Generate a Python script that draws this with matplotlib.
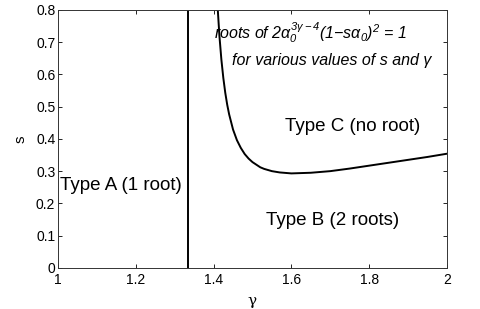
import matplotlib
matplotlib.use("Agg")
import matplotlib.pyplot as plt

plt.rcParams['font.family'] = ['Liberation Sans', 'DejaVu Sans']
plt.rcParams['mathtext.fontset'] = 'custom'
plt.rcParams['mathtext.rm'] = 'Liberation Sans:italic'
plt.rcParams['mathtext.it'] = 'Liberation Sans:italic'

# Type A / Type B boundary (vertical line at gamma = 4/3)
boundary_A_gamma = [4/3, 4/3]
boundary_A_s = [0.0, 0.8]

# Type B / Type C boundary curve
curve_gamma = [1.405, 1.41, 1.415, 1.42, 1.425, 1.43, 1.435, 1.44, 1.45, 1.46, 1.47, 1.48,
               1.49, 1.50, 1.52, 1.53, 1.55, 1.57, 1.60, 1.65, 1.70, 1.75, 1.80, 1.85,
               1.90, 1.95, 2.00]
curve_s = [0.944, 0.815, 0.719, 0.646, 0.589, 0.543, 0.506, 0.476, 0.429, 0.396, 0.372, 0.353,
           0.339, 0.328, 0.312, 0.307, 0.300, 0.296, 0.293, 0.295, 0.300, 0.308, 0.317, 0.326,
           0.335, 0.344, 0.354]

xticks = [1, 1.2, 1.4, 1.6, 1.8, 2]
xticklabels = ['1', '1.2', '1.4', '1.6', '1.8', '2']
yticks = [0, 0.1, 0.2, 0.3, 0.4, 0.5, 0.6, 0.7, 0.8]
yticklabels = ['0', '0.1', '0.2', '0.3', '0.4', '0.5', '0.6', '0.7', '0.8']

fig = plt.figure(figsize=(4.8, 3.09), dpi=100)
ax = fig.add_axes([0.121, 0.133, 0.810, 0.835])
ax.plot(boundary_A_gamma, boundary_A_s, color='black', lw=1.4)
ax.plot(curve_gamma, curve_s, color='black', lw=1.4)
ax.set_xlim(1, 2)
ax.set_ylim(0, 0.8)
ax.set_xticks(xticks)
ax.set_xticklabels(xticklabels)
ax.set_yticks(yticks)
ax.set_yticklabels(yticklabels)
ax.tick_params(direction='in', top=True, right=True, labelsize=10, length=3, width=0.6)
ax.tick_params(axis='x', pad=4)
ax.tick_params(axis='y', pad=2)
for sp in ax.spines.values():
    sp.set_linewidth(0.7)
    sp.set_color('#333333')
ax.set_xlabel('γ', fontsize=11, family='DejaVu Serif', labelpad=5)
ax.set_ylabel('s', fontsize=11, labelpad=6)

ax.text(1.004, 0.257, 'Type A (1 root)', fontsize=13.5, ha='left', va='center')
ax.text(1.535, 0.147, 'Type B (2 roots)', fontsize=13.5, ha='left', va='center')
ax.text(1.584, 0.437, 'Type C (no root)', fontsize=13.5, ha='left', va='center')
ax.text(1.40, 0.729, r'roots of 2$\alpha_0^{3\gamma-4}$(1$-$s$\alpha_0$)$^2$ = 1',
        fontsize=11.5, style='italic', ha='left', va='center')
ax.text(1.447, 0.642, 'for various values of s and γ', fontsize=11.5, style='italic',
        ha='left', va='center')

fig.savefig('out.png', dpi=100)
